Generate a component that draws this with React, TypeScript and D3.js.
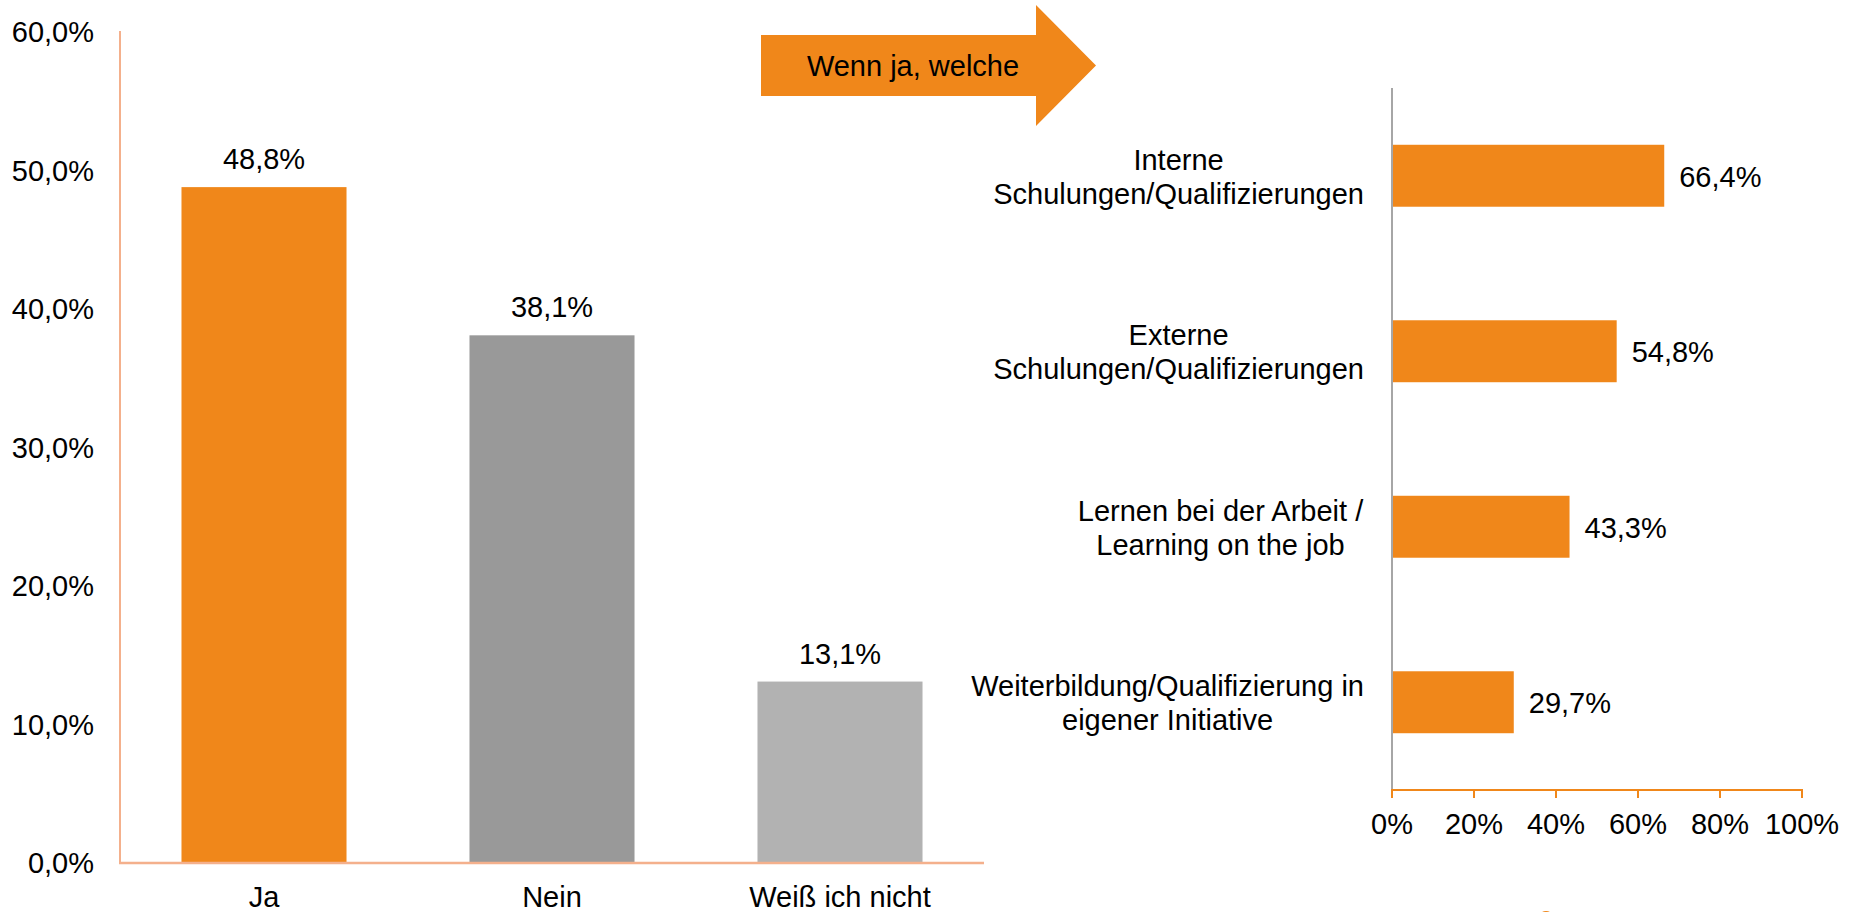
import React from "react";
import * as d3 from "d3";

const leftCategories = ["Ja", "Nein", "Weiß ich nicht"];
const leftValues = [48.8, 38.1, 13.1];
const leftColors = ["#F0871A", "#999999", "#B2B2B2"];
const leftTicks = [0, 10, 20, 30, 40, 50, 60];

const rightCategories = [
  ["Interne", "Schulungen/Qualifizierungen"],
  ["Externe", "Schulungen/Qualifizierungen"],
  ["Lernen bei der Arbeit /", "Learning on the job"],
  ["Weiterbildung/Qualifizierung in", "eigener Initiative"],
];
const rightValues = [66.4, 54.8, 43.3, 29.7];
const rightTicks = [0, 20, 40, 60, 80, 100];

const arrowLabel = "Wenn ja, welche";

const FONT = "'Liberation Sans', Arial, Helvetica, sans-serif";
const FS = 29;
const ORANGE = "#F0871A";

const fmt = (v: number) => v.toFixed(1).replace(".", ",") + "%";

let ctx: CanvasRenderingContext2D | null = null;
function measure(t: string): number {
  if (!ctx && typeof document !== "undefined") {
    ctx = document.createElement("canvas").getContext("2d");
  }
  if (!ctx) return t.length * FS * 0.5;
  ctx.font = `${FS}px 'Liberation Sans', Arial, sans-serif`;
  return ctx.measureText(t).width;
}

export default function App() {
  const W = 1852;
  const H = 912;

  // Left chart scales
  const lx = d3
    .scaleBand<string>()
    .domain(leftCategories)
    .range([120, 984])
    .paddingInner(0.427)
    .paddingOuter(0.2135);
  const ly = d3.scaleLinear().domain([0, 60]).range([863, 32]);

  // Right chart scales
  const rx = d3.scaleLinear().domain([0, 100]).range([1392, 1802]);
  const ry = d3
    .scaleBand<string>()
    .domain(rightCategories.map((c) => c.join(" ")))
    .range([88, 790])
    .paddingInner(0.647)
    .paddingOuter(0.3235);

  const arrowPath = d3.path();
  arrowPath.moveTo(761, 35);
  arrowPath.lineTo(1036, 35);
  arrowPath.lineTo(1036, 5);
  arrowPath.lineTo(1096, 65.5);
  arrowPath.lineTo(1036, 126);
  arrowPath.lineTo(1036, 96);
  arrowPath.lineTo(761, 96);
  arrowPath.closePath();

  const labelRight = rx(0) - 28;

  return (
    <svg
      width={W}
      height={H}
      style={{ position: "absolute", left: 0, top: 0, background: "#fff" }}
      fontFamily={FONT}
      fontSize={FS}
    >
      <rect x={0} y={0} width={W} height={H} fill="#fff" />

      {/* Left chart */}
      {leftCategories.map((c, i) => (
        <rect
          key={c}
          x={lx(c)}
          y={ly(leftValues[i])}
          width={lx.bandwidth()}
          height={ly(0) - ly(leftValues[i])}
          fill={leftColors[i]}
        />
      ))}
      <line x1={120} x2={120} y1={ly(60) - 1} y2={ly(0)} stroke="#F4B08C" strokeWidth={2} />
      <line x1={119} x2={984} y1={ly(0)} y2={ly(0)} stroke="#F4B08C" strokeWidth={2.5} />
      {leftTicks.map((t) => (
        <text key={t} x={94} y={ly(t) + 10} textAnchor="end" fill="#000">
          {fmt(t)}
        </text>
      ))}
      {leftCategories.map((c, i) => (
        <text
          key={c}
          x={(lx(c) as number) + lx.bandwidth() / 2}
          y={ly(leftValues[i]) - 18}
          textAnchor="middle"
          fill="#000"
        >
          {fmt(leftValues[i])}
        </text>
      ))}
      {leftCategories.map((c) => (
        <text
          key={c}
          x={(lx(c) as number) + lx.bandwidth() / 2}
          y={907}
          textAnchor="middle"
          fill="#000"
        >
          {c}
        </text>
      ))}

      {/* Arrow */}
      <path d={arrowPath.toString()} fill={ORANGE} />
      <text x={913} y={76} textAnchor="middle" fill="#000">
        {arrowLabel}
      </text>

      {/* Right chart */}
      {rightCategories.map((c, i) => {
        const key = c.join(" ");
        return (
          <rect
            key={key}
            x={rx(0)}
            y={ry(key)}
            width={rx(rightValues[i]) - rx(0)}
            height={ry.bandwidth()}
            fill={ORANGE}
          />
        );
      })}
      <line x1={rx(0)} x2={rx(0)} y1={88} y2={790} stroke="#A6A6A6" strokeWidth={2} />
      <line x1={rx(0) - 1} x2={rx(100) + 1} y1={790} y2={790} stroke={ORANGE} strokeWidth={2} />
      {rightTicks.map((t) => (
        <g key={t}>
          <line x1={rx(t)} x2={rx(t)} y1={790} y2={798} stroke={ORANGE} strokeWidth={2} />
          <text x={rx(t)} y={834} textAnchor="middle" fill="#000">
            {t + "%"}
          </text>
        </g>
      ))}
      {rightCategories.map((c, i) => {
        const key = c.join(" ");
        const cy = (ry(key) as number) + ry.bandwidth() / 2;
        return (
          <text
            key={key}
            x={rx(rightValues[i]) + 15}
            y={cy + 11}
            fill="#000"
          >
            {fmt(rightValues[i])}
          </text>
        );
      })}
      {rightCategories.map((c) => {
        const key = c.join(" ");
        const cy = (ry(key) as number) + ry.bandwidth() / 2;
        const maxW = Math.max(...c.map(measure));
        const cx = labelRight - maxW / 2;
        const lh = 34;
        const y0 = cy + 11 - ((c.length - 1) * lh) / 2;
        return (
          <text key={key} textAnchor="middle" fill="#000">
            {c.map((line, j) => (
              <tspan key={j} x={cx} y={y0 + j * lh}>
                {line}
              </tspan>
            ))}
          </text>
        );
      })}

      {/* clipped decoration at the bottom edge */}
      <circle cx={1546} cy={919} r={8} fill={ORANGE} />
    </svg>
  );
}
